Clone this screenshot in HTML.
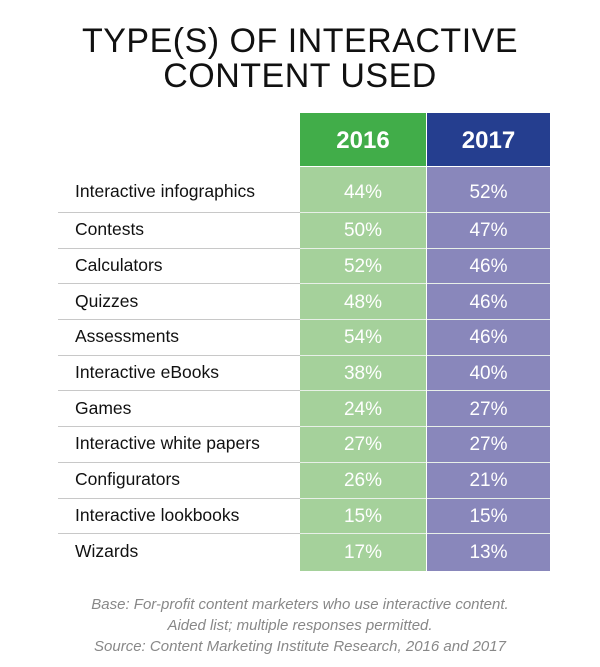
<!DOCTYPE html>
<html><head><style>
body{margin:0;width:600px;height:667px;background:#fff;font-family:"Liberation Sans",sans-serif;position:relative;overflow:hidden}
.t{position:absolute;left:0;width:600px;text-align:center;font-size:34px;color:#111;letter-spacing:0.5px}
.hd{position:absolute;top:113px;height:53px;color:#fff;font-weight:bold;font-size:24px;line-height:56px;text-align:center}
.r{position:absolute;left:0;width:600px;height:22px;line-height:22px}
.r .l{position:absolute;left:75px;top:0;font-size:17.5px;color:#111}
.r .a,.r .b{position:absolute;top:2px;color:#fff;font-size:19px;text-align:center}
.r .a{left:300px;width:126px}
.r .b{left:427px;width:123px}
.ln{position:absolute;left:58px;width:242px;height:1px;background:#c8c8c8}
.lc{position:absolute;left:300px;width:250px;height:1px;background:#e8f0e8}
.f{position:absolute;left:0;width:600px;text-align:center;font-style:italic;color:#888;font-size:15px}
</style></head><body>
<div class="t" style="top:22px">TYPE(S) OF INTERACTIVE</div>
<div class="t" style="top:57px">CONTENT USED</div>
<div class="hd" style="left:300px;width:126px;background:#41ad49">2016</div>
<div class="hd" style="left:427px;width:123px;background:#253e8f">2017</div>
<div style="position:absolute;left:300px;top:167px;width:126px;height:404px;background:#a5d19b"></div>
<div style="position:absolute;left:427px;top:167px;width:123px;height:404px;background:#8987bb"></div>

<div class="ln" style="top:212px"></div><div class="lc" style="top:212px"></div>
<div class="ln" style="top:248px"></div><div class="lc" style="top:248px"></div>
<div class="ln" style="top:283px"></div><div class="lc" style="top:283px"></div>
<div class="ln" style="top:319px"></div><div class="lc" style="top:319px"></div>
<div class="ln" style="top:355px"></div><div class="lc" style="top:355px"></div>
<div class="ln" style="top:390px"></div><div class="lc" style="top:390px"></div>
<div class="ln" style="top:426px"></div><div class="lc" style="top:426px"></div>
<div class="ln" style="top:462px"></div><div class="lc" style="top:462px"></div>
<div class="ln" style="top:498px"></div><div class="lc" style="top:498px"></div>
<div class="ln" style="top:533px"></div><div class="lc" style="top:533px"></div>

<div class="r" style="top:180px"><span class="l">Interactive infographics</span><span class="a">44%</span><span class="b">52%</span></div>
<div class="r" style="top:218px"><span class="l">Contests</span><span class="a">50%</span><span class="b">47%</span></div>
<div class="r" style="top:254px"><span class="l">Calculators</span><span class="a">52%</span><span class="b">46%</span></div>
<div class="r" style="top:290px"><span class="l">Quizzes</span><span class="a">48%</span><span class="b">46%</span></div>
<div class="r" style="top:325px"><span class="l">Assessments</span><span class="a">54%</span><span class="b">46%</span></div>
<div class="r" style="top:361px"><span class="l">Interactive eBooks</span><span class="a">38%</span><span class="b">40%</span></div>
<div class="r" style="top:397px"><span class="l">Games</span><span class="a">24%</span><span class="b">27%</span></div>
<div class="r" style="top:432px"><span class="l">Interactive white papers</span><span class="a">27%</span><span class="b">27%</span></div>
<div class="r" style="top:468px"><span class="l">Configurators</span><span class="a">26%</span><span class="b">21%</span></div>
<div class="r" style="top:504px"><span class="l">Interactive lookbooks</span><span class="a">15%</span><span class="b">15%</span></div>
<div class="r" style="top:540px"><span class="l">Wizards</span><span class="a">17%</span><span class="b">13%</span></div>

<div style="position:absolute;left:426px;top:113px;width:1px;height:458px;background:#fff"></div>
<div class="f" style="top:596px">Base: For-profit content marketers who use interactive content.</div>
<div class="f" style="top:617px">Aided list; multiple responses permitted.</div>
<div class="f" style="top:638px">Source: Content Marketing Institute Research, 2016 and 2017</div>
</body></html>
